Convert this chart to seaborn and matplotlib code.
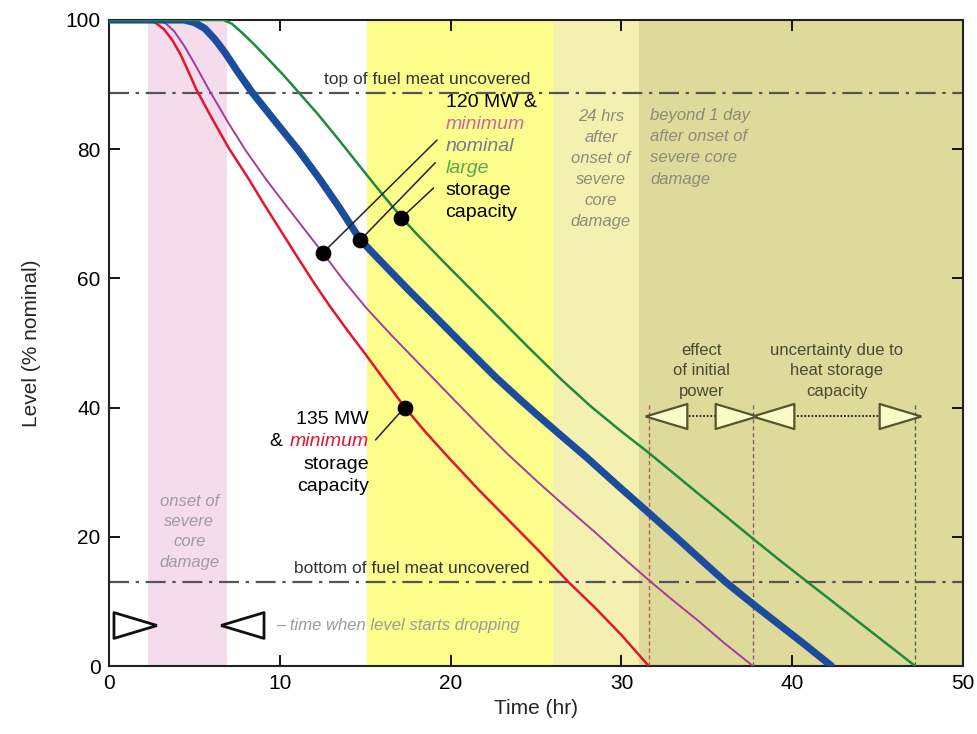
import numpy as np
import pandas as pd
import matplotlib
matplotlib.use('Agg')
import matplotlib.pyplot as plt
import seaborn as sns

# curve data (time in hr, level in % nominal)
red_t = [0, 2.2, 2.7, 3.2, 3.7, 4.2, 4.7, 5.1, 6, 7, 8.2, 9, 10, 11.1, 12, 12.9, 14, 15, 16.2,
         17.3, 18.5, 19.8, 21.6, 23.5, 25.1, 26.9, 28.5, 30, 31.6]
red_y = [100, 100, 99.6, 98.6, 96.9, 94.6, 91.7, 89.3, 84.9, 80.2, 75.3, 71.8, 67.6, 63.0, 59.3,
         55.8, 51.8, 48.3, 44.0, 40.1, 36.3, 32.5, 27.4, 22.3, 18.0, 13.0, 8.9, 4.8, 0]

purple_t = [0, 2.8, 3.3, 3.8, 4.4, 5.1, 5.85, 7, 8, 9.2, 10.5, 11.5, 12.5, 13.7, 15, 16.5, 18,
            19.8, 21.6, 23.3, 25.1, 26.5, 28.5, 30, 31.6, 33, 34.5, 36, 37.7]
purple_y = [100, 100, 99.5, 98.3, 96.0, 92.8, 89.2, 84.0, 79.8, 75.3, 70.8, 67.4, 64.0, 59.8,
            55.6, 51.3, 47.2, 42.3, 37.4, 32.9, 28.5, 25.2, 20.6, 17.0, 13.3, 10.2, 7.0, 3.6, 0]

blue_t = [0, 4.4, 5, 5.6, 6.2, 6.8, 7.5, 8.4, 9.7, 11.1, 12.3, 13.5, 14.7, 16, 17.5, 18.9, 20.7,
          22.6, 24, 25.1, 26.5, 28, 29.8, 31.6, 33.3, 34.8, 36.1, 37.6, 39, 40.7, 42.3]
blue_y = [100, 100, 99.6, 98.7, 97.0, 94.9, 92.1, 88.7, 84.4, 79.8, 75.5, 70.9, 66.0, 62.4, 58.3,
          54.6, 49.8, 44.8, 41.4, 38.8, 35.6, 32.2, 27.9, 23.7, 19.7, 16.1, 13.0, 9.8, 6.9, 3.4, 0]

green_t = [0, 6.7, 7.2, 7.8, 8.5, 9.3, 10.2, 11.1, 12.2, 13.5, 15, 16.1, 17.1, 18, 19.5, 21,
           22.8, 24.6, 26.5, 28.2, 30, 31.6, 33.3, 35.5, 37.8, 39.3, 40.8, 42.5, 44, 45.6, 47.2]
green_y = [100, 100, 99.4, 98.0, 96.2, 94.0, 91.5, 88.8, 85.5, 81.3, 76.3, 72.7, 69.5, 66.9, 62.8,
           58.8, 54.0, 49.2, 44.3, 40.2, 36.3, 33.0, 29.3, 24.5, 19.5, 16.3, 13.2, 9.7, 6.6, 3.3, 0]

# marked points on the curves
dot_t = [12.5, 14.7, 17.1, 17.3]
dot_y = [63.9, 65.9, 69.3, 40.0]

# reference levels
top_level = 88.7
bottom_level = 13.0

# end times of the curves (vertical markers)
end_times = [31.6, 37.7, 47.2]
arrow_level = 38.7

sns.set_theme(style='ticks')
plt.rcParams['font.family'] = ['Liberation Sans', 'DejaVu Sans']

fig = plt.figure(figsize=(9.78, 7.34), dpi=100)
ax = fig.add_axes([0.1115, 0.0926, 0.8732, 0.8802])

# background bands
ax.axvspan(2.3, 6.9, color='#f4dcec', lw=0, zorder=0)
ax.axvspan(15.1, 26.0, color='#fdfd8c', lw=0, zorder=0)
ax.axvspan(26.0, 31.0, color='#f4f1b0', lw=0, zorder=0)
ax.axvspan(31.0, 50, color='#dddA9a', lw=0, zorder=0)

# reference dash-dot lines
for lev in [top_level, bottom_level]:
    ax.axhline(lev, color='#555555', lw=1.6, ls=(0, (9, 3, 1.5, 3)), zorder=2)

# curves
curves = [
    (red_t, red_y, '#e8142c', 1.8),
    (purple_t, purple_y, '#a43c9c', 1.4),
    (blue_t, blue_y, '#1c4c9c', 5.2),
    (green_t, green_y, '#1f8a3c', 1.8),
]
for t, y, c, lw in curves:
    df = pd.DataFrame({'t': t, 'y': y})
    sns.lineplot(data=df, x='t', y='y', color=c, lw=lw, ax=ax, zorder=4,
                 estimator=None, sort=False)
for ln in ax.get_lines():
    ln.set_solid_joinstyle('round')

# vertical dashed lines at curve ends
vcols = ['#b86050', '#8c6070', '#4c6a3c']
for xe, c in zip(end_times, vcols):
    ax.plot([xe, xe], [0, 40.5], color=c, lw=1.0, ls=(0, (3, 2)), zorder=3)

# arrow line with open triangles
ax.plot([end_times[0], end_times[2]], [arrow_level, arrow_level], color='#222222',
        lw=1.3, ls=(0, (1, 1)), zorder=5)
left_tri = [(-1, 0), (1, 0.6), (1, -0.6), (-1, 0)]
right_tri = [(1, 0), (-1, 0.6), (-1, -0.6), (1, 0)]
tri_face = '#fbfbc8'
tri_edge = '#555530'
ax.plot([32.6, 38.9], [arrow_level] * 2, ls='none', marker=left_tri, ms=30,
        mfc=tri_face, mec=tri_edge, mew=1.6, zorder=6)
ax.plot([36.7, 46.3], [arrow_level] * 2, ls='none', marker=right_tri, ms=30,
        mfc=tri_face, mec=tri_edge, mew=1.6, zorder=6)

# triangles marking when level starts dropping
ax.plot([1.5], [6.3], ls='none', marker=right_tri, ms=31, mfc='white', mec='#111111',
        mew=2, zorder=6)
ax.plot([7.8], [6.3], ls='none', marker=left_tri, ms=31, mfc='white', mec='#111111',
        mew=2, zorder=6)
ax.text(9.8, 6.3, '– time when level starts dropping', color='#9a9a9a', fontsize=12,
        style='italic', va='center', ha='left', zorder=7)

# leader lines
leaders = [((12.5, 63.9), (19.2, 81.4)), ((14.7, 65.9), (19.1, 77.9)),
           ((17.1, 69.3), (19.0, 74.0)), ((17.3, 40.0), (15.6, 35.0))]
for (x0, y0), (x1, y1) in leaders:
    ax.plot([x0, x1], [y0, y1], color='#222222', lw=1.1, zorder=5)

sns.scatterplot(x=dot_t, y=dot_y, color='black', s=110, edgecolor='black', ax=ax, zorder=8)

# labels
ax.text(18.6, 89.6, 'top of fuel meat uncovered', ha='center', va='bottom', fontsize=12.5,
        color='#333333', zorder=7)
ax.text(17.7, 13.9, 'bottom of fuel meat uncovered', ha='center', va='bottom', fontsize=12.5,
        color='#333333', zorder=7)

lab120 = [('120 MW &', 'black', 'normal'), ('minimum', '#c868a8', 'italic'),
          ('nominal', '#6c7c94', 'italic'), ('large', '#5aa84a', 'italic'),
          ('storage', 'black', 'normal'), ('capacity', 'black', 'normal')]
for i, (s, c, st) in enumerate(lab120):
    ax.text(19.7, 87.2 - 3.4 * i, s, color=c, style=st, fontsize=14, ha='left',
            va='center', zorder=7)

ax.text(15.2, 38.1, '135 MW', color='black', fontsize=14, ha='right', va='center', zorder=7)
ax.text(15.2, 34.7, 'minimum', color='#e8142c', style='italic', fontsize=14, ha='right',
        va='center', zorder=7)
ax.text(10.15, 34.7, '&', color='black', fontsize=14, ha='right', va='center', zorder=7)
ax.text(15.2, 31.2, 'storage', color='black', fontsize=14, ha='right', va='center', zorder=7)
ax.text(15.2, 27.8, 'capacity', color='black', fontsize=14, ha='right', va='center', zorder=7)

ax.text(28.8, 77.0, '24 hrs\nafter\nonset of\nsevere\ncore\ndamage', color='#8c8c7c',
        style='italic', fontsize=12, ha='center', va='center', linespacing=1.5, zorder=7)
ax.text(31.7, 80.3, 'beyond 1 day\nafter onset of\nsevere core\ndamage', color='#8c8c7c',
        style='italic', fontsize=12, ha='left', va='center', linespacing=1.52, zorder=7)
ax.text(4.7, 20.8, 'onset of\nsevere\ncore\ndamage', color='#a09aa4',
        style='italic', fontsize=12, ha='center', va='center', linespacing=1.45, zorder=7)
ax.text(34.7, 45.7, 'effect\nof initial\npower', color='#4a4a3a', fontsize=12,
        ha='center', va='center', linespacing=1.45, zorder=7)
ax.text(42.6, 45.7, 'uncertainty due to\nheat storage\ncapacity', color='#4a4a3a', fontsize=12,
        ha='center', va='center', linespacing=1.45, zorder=7)

# axes
ax.set_xlim(0, 50)
ax.set_ylim(0, 100)
ax.set_xticks([0, 10, 20, 30, 40, 50])
ax.set_yticks([0, 20, 40, 60, 80, 100])
ax.tick_params(direction='in', top=True, right=True, length=8, width=1.3,
               labelsize=15, colors='black', pad=6)
for sp in ax.spines.values():
    sp.set_visible(True)
    sp.set_linewidth(1.5)
    sp.set_color('#222222')
ax.set_xlabel('Time (hr)', fontsize=15, labelpad=4)
ax.set_ylabel('Level (% nominal)', fontsize=15, labelpad=18)

fig.savefig('out.png', dpi=100)
